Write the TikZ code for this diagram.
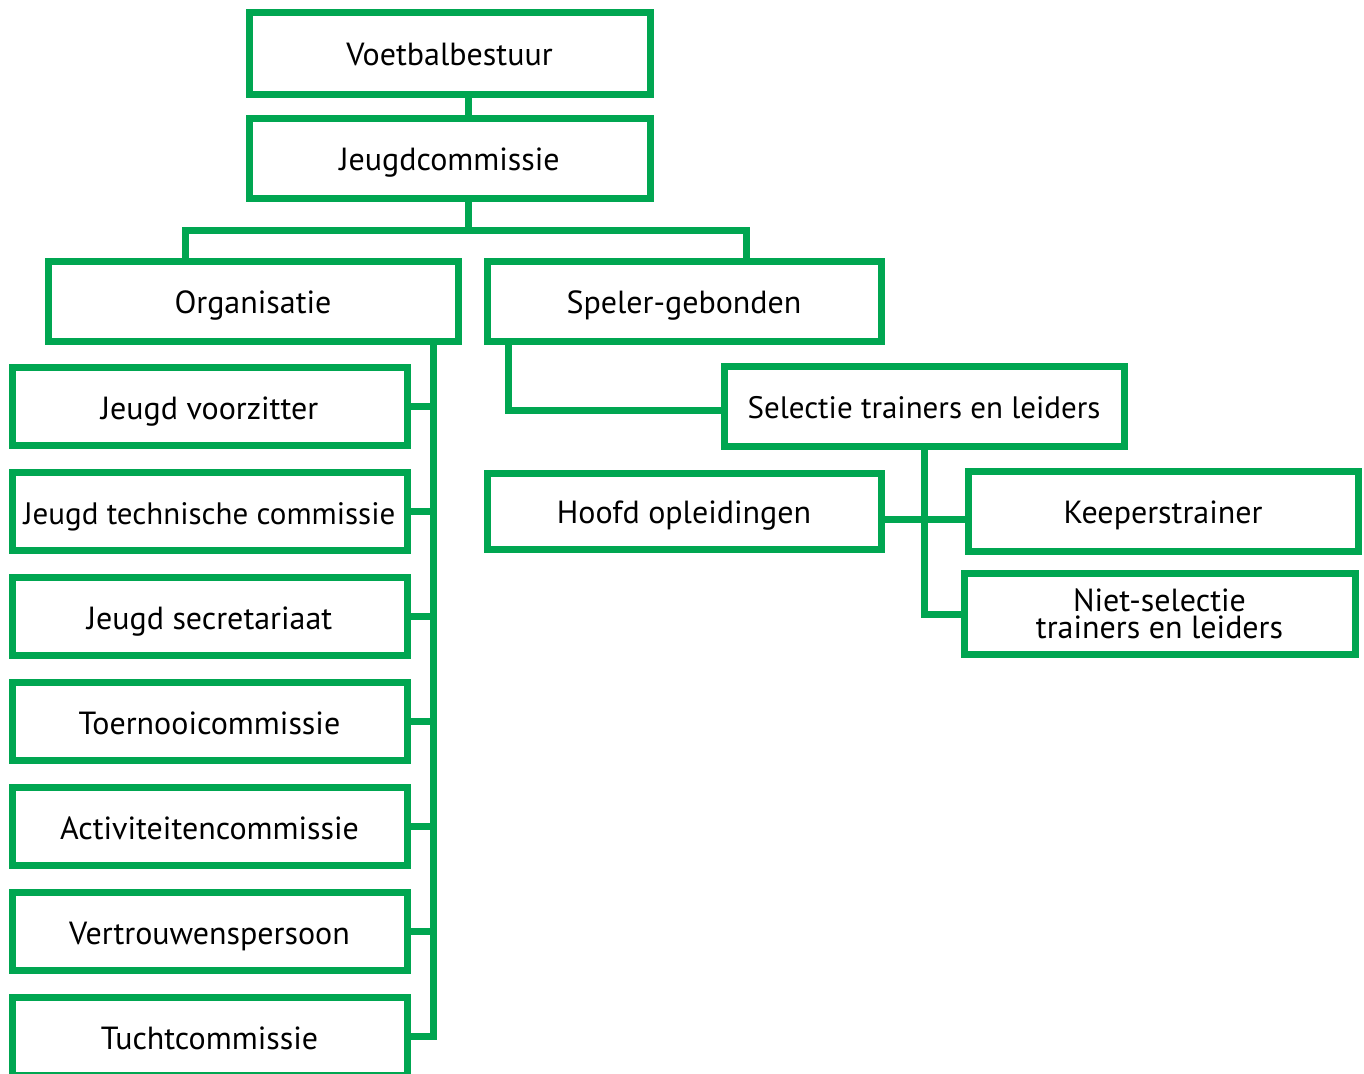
\documentclass[tikz,border=0pt]{standalone}
\usepackage{fontspec}
\setmainfont{PT Sans}
\definecolor{orggreen}{HTML}{00A651}
\begin{document}
\begin{tikzpicture}[x=1pt,y=-1pt,
  box/.style={draw=orggreen, line width=7pt, rectangle, inner sep=0pt, outer sep=0pt,
    font=\fontsize{32}{27}\selectfont, text height=25pt, text depth=0pt},
  smallbox/.style={box, font=\fontsize{31}{27}\selectfont},
  link/.style={draw=orggreen, line width=7pt}]
\path[use as bounding box] (0,0) rectangle (1364,1073);
\clip (0,0) rectangle (1364,1073);
\node[box, minimum width=401pt, minimum height=81pt] (vb) at (449.5,53.5) {Voetbalbestuur};
\node[box, minimum width=401pt, minimum height=80pt] (jc) at (449.5,158) {Jeugdcommissie};
\node[box, minimum width=410pt, minimum height=80pt] (org) at (253,301) {Organisatie};
\node[box, minimum width=394pt, minimum height=80pt] (spg) at (684,301) {Speler-gebonden};
\foreach \n/\t [count=\i from 0] in {jv/Jeugd voorzitter, js/Jeugd secretariaat, tc/Toernooicommissie, ac/Activiteitencommissie, vp/Vertrouwenspersoon, tu/Tuchtcommissie}{
  \pgfmathsetmacro{\yy}{\i==0 ? 406.5 : 406.5+105*(\i+1)}
  \node[box, minimum width=395pt, minimum height=78pt] (\n) at (209.5,\yy) {\t};
}
\node[smallbox, minimum width=395pt, minimum height=78pt] (jt) at (209.5,511.5) {Jeugd technische commissie};
\node[smallbox, minimum width=400pt, minimum height=80pt] (sel) at (924,406) {Selectie trainers en leiders};
\node[box, minimum width=394pt, minimum height=76pt] (hoofd) at (684,511) {Hoofd opleidingen};
\node[box, minimum width=390pt, minimum height=80pt] (keeper) at (1163,511) {Keeperstrainer};
\node[draw=orggreen, line width=7pt, rectangle, inner sep=0pt, outer sep=0pt, align=center,
  font=\fontsize{32}{27}\selectfont, minimum width=391pt, minimum height=81pt] (niet) at (1159.5,614) {Niet-selectie\\trainers en leiders};
% connectors
\coordinate (t1) at (468,0);
\coordinate (ba) at (185,230);
\coordinate (bb) at (746,230);
\coordinate (tr) at (433,0);
\coordinate (sp) at (508,410);
\coordinate (hk) at (0,519);
\draw[link] (vb.south -| t1) -- (jc.north -| t1);
\draw[link] (jc.south -| t1) -- (t1 |- ba);
\draw[link] (org.north -| ba) -- (ba) -- (bb) -- (spg.north -| bb);
\draw[link] (org.south -| tr) -- (tr |- tu.east) -- (tu.east);
\foreach \n in {jv,jt,js,tc,ac,vp}{
  \draw[link] (\n.east) -- (\n.east -| tr);
}
\draw[link] (spg.south -| sp) -- (sp) -- (sel.west |- sp);
\draw[link] (sel.south) |- (niet.west);
\draw[link] (hoofd.east |- hk) -- (keeper.west |- hk);
\end{tikzpicture}
\end{document}
